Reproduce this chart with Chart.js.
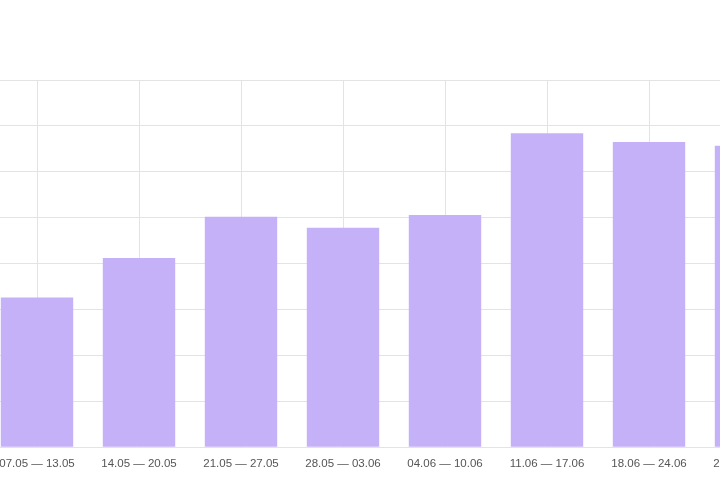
<!DOCTYPE html>
<html>
<head>
<meta charset="utf-8">
<script src="https://cdn.jsdelivr.net/npm/chart.js@4"></script>
<style>
  html, body { margin: 0; padding: 0; background: #fff; overflow: hidden; }
  .wrap { position: relative; width: 720px; height: 480px; overflow: hidden; }
  .chart-box { position: absolute; left: -14px; top: 0; width: 816px; height: 483px; }
</style>
</head>
<body>
<div class="wrap">
  <div class="chart-box"><canvas id="weeksChart"></canvas></div>
</div>
<script>
// weekly data
const weeks = [
  "07.05 — 13.05",
  "14.05 — 20.05",
  "21.05 — 27.05",
  "28.05 — 03.06",
  "04.06 — 10.06",
  "11.06 — 17.06",
  "18.06 — 24.06",
  "25.06 — 01.07",
];
const counts = [326, 412, 502, 478, 506, 684, 665, 657];
const yMax = 800;
const yStep = 100;

const ctx = document.getElementById("weeksChart").getContext("2d");
const weeksChart = new Chart(ctx, {
  type: "bar",
  data: {
    labels: weeks,
    datasets: [
      {
        data: counts,
        backgroundColor: "#c4b1f8",
        borderWidth: 0,
        categoryPercentage: 0.71,
        barPercentage: 1,
      },
    ],
  },
  options: {
    responsive: true,
    maintainAspectRatio: false,
    animation: false,
    layout: { padding: { top: 80, bottom: 2, left: 0, right: 0 } },
    plugins: { legend: { display: false }, tooltip: { enabled: false } },
    scales: {
      x: {
        offset: true,
        grid: { offset: false, color: "#e3e3e3", drawTicks: false },
        border: { display: false },
        ticks: {
          color: "#555",
          font: { family: "Liberation Sans", size: 11.5 },
          padding: 10,
          maxRotation: 0,
          autoSkip: false,
        },
      },
      y: {
        min: 0,
        max: yMax,
        grid: { color: "#e3e3e3", drawTicks: false },
        border: { display: false },
        ticks: { display: false, stepSize: yStep },
      },
    },
  },
});
</script>
</body>
</html>
